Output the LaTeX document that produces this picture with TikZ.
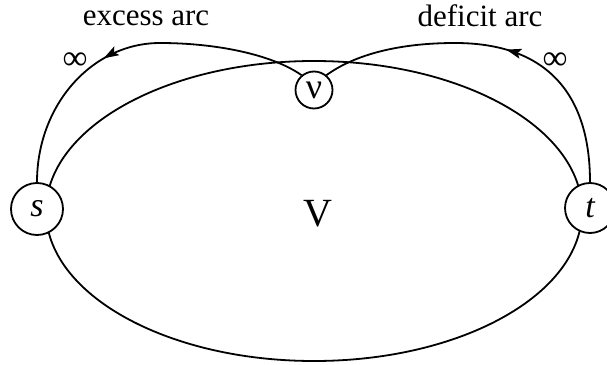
\documentclass[tikz,border=0pt]{standalone}
\usepackage{fontspec}
\setmainfont{Liberation Serif}
\usetikzlibrary{arrows.meta,decorations.markings}
\begin{document}
\begin{tikzpicture}[x=1pt,y=-1pt,
  lw/.style={line width=1.8pt},
  vertex/.style={circle,draw,line width=1.8pt,fill=white,inner sep=0pt,font=\fontsize{34}{38}\selectfont},
  lab/.style={font=\fontsize{31}{36}\selectfont},
  tipmark/.style={decoration={markings,mark=at position #1 with {\arrow{Stealth[length=15pt,width=10pt,inset=3pt]}}},postaction={decorate}}
]
\useasboundingbox (0,0) rectangle (607,364);
\draw[lw] (314,211) ellipse [x radius=268, y radius=150];
\node[vertex,minimum size=52pt] (s) at (37,209) {\itshape s};
\node[vertex,minimum size=50pt] (t) at (590,208) {\itshape t};
\node[vertex,minimum size=37pt] (v) at (314,90) {\fontsize{36}{40}\selectfont ν};
\node[font=\fontsize{40}{44}\selectfont] (V) at (318,214) {V};
\coordinate (ltop) at (160,43);
\coordinate (rtop) at (455,43);
\draw[lw,tipmark=206pt] (v.130) .. controls +(-30,-21) and +(55,0) .. (ltop)
  .. controls +(-68,0) and +(0,-77) .. (s.north);
\draw[lw,tipmark=170pt] (t.north) .. controls +(0,-92) and +(88,0) .. (rtop)
  .. controls +(-55,0) and +(29,-21) .. (v.50);
\node[lab,anchor=base] (ex) at (146,25) {excess arc};
\node[lab,anchor=base] (de) at (480,26) {deficit arc};
\node[font=\fontsize{35}{40}\selectfont] (inf1) at (75,61) {∞};
\node[font=\fontsize{35}{40}\selectfont] (inf2) at (555,61) {∞};
\end{tikzpicture}
\end{document}
